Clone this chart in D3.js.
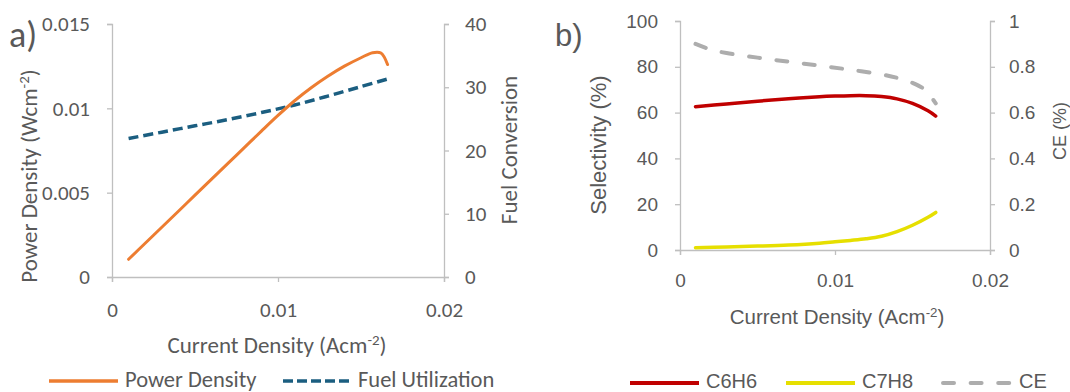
<!DOCTYPE html>
<html>
<head>
<meta charset="utf-8">
<script src="https://cdn.jsdelivr.net/npm/d3@7"></script>
<style>
  body { margin: 0; background: #fff; }
  svg { display: block; }
</style>
</head>
<body>
<div id="chart"></div>
<script>
// panel a data
var currentA = [0.001, 0.002, 0.003, 0.004, 0.005, 0.006, 0.007, 0.008, 0.009, 0.010, 0.011, 0.012, 0.013, 0.014, 0.015, 0.0157, 0.0162, 0.0166];
var powerDensity = [0.00105, 0.0020, 0.00295, 0.0039, 0.00485, 0.0058, 0.00675, 0.0077, 0.00865, 0.00958, 0.01045, 0.01122, 0.0119, 0.0125, 0.0130, 0.0133, 0.01328, 0.0126];
var currentFuel = [0.001, 0.003, 0.005, 0.007, 0.009, 0.011, 0.013, 0.015, 0.0166];
var fuelConversion = [21.9, 22.9, 23.9, 24.9, 26.0, 27.2, 28.6, 30.1, 31.3];

// panel b data
var currentSel = [0.001, 0.003, 0.005, 0.007, 0.009, 0.010, 0.011, 0.012, 0.013, 0.014, 0.015, 0.016, 0.0165];
var c6h6 = [62.6, 63.8, 65.0, 66.0, 66.9, 67.2, 67.4, 67.4, 67.0, 66.0, 64.0, 60.8, 58.5];
var c7h8 = [1.0, 1.3, 1.7, 2.2, 3.0, 3.6, 4.2, 4.9, 6.0, 8.0, 10.8, 14.3, 16.4];
var currentCE = [0.001, 0.002, 0.003, 0.005, 0.007, 0.009, 0.011, 0.013, 0.014, 0.015, 0.0158, 0.0165];
var ce = [0.90, 0.875, 0.86, 0.84, 0.822, 0.805, 0.787, 0.767, 0.752, 0.73, 0.70, 0.64];

var xTicks = [0, 0.01, 0.02];
var powerTicks = [0, 0.005, 0.01, 0.015];
var fuelTicks = [0, 10, 20, 30, 40];
var selTicks = [0, 20, 40, 60, 80, 100];
var ceTicks = [0, 0.2, 0.4, 0.6, 0.8, 1];

var textColor = "#595959";
var axisColor = "#BFBFBF";
var fontA = "Carlito, Calibri, 'Open Sans', sans-serif";
var fontB = "'Liberation Sans', Arial, sans-serif";

var svg = d3.select("#chart")
  .append("svg")
  .attr("width", 1070)
  .attr("height", 392);

var fmt = function(d) { return String(+d.toFixed(3)); };

function styleAxis(g, font, size) {
  g.select(".domain").attr("stroke", axisColor).attr("stroke-width", 1.3);
  g.selectAll(".tick line").attr("stroke", axisColor).attr("stroke-width", 1.3);
  g.selectAll(".tick text")
    .attr("fill", textColor)
    .style("font-family", font)
    .style("font-size", size + "px");
}

// text with a superscript "-2"
function supText(sel, before, size) {
  sel.append("tspan").text(before);
  sel.append("tspan").text("-2").attr("dy", -size * 0.35).style("font-size", (size * 0.65) + "px");
  sel.append("tspan").text(")").attr("dy", size * 0.35);
}

// ---------- panel a ----------
var xA = d3.scaleLinear().domain([0, 0.02]).range([112, 444]);
var yA = d3.scaleLinear().domain([0, 0.015]).range([277, 24]);
var yA2 = d3.scaleLinear().domain([0, 40]).range([277, 24]);

svg.append("g")
  .attr("transform", "translate(0,277)")
  .call(d3.axisBottom(xA).tickValues(xTicks).tickFormat(fmt).tickSize(5).tickPadding(20))
  .call(styleAxis, fontA, 21);

svg.append("g")
  .attr("transform", "translate(112,0)")
  .call(d3.axisLeft(yA).tickValues(powerTicks).tickFormat(fmt).tickSize(5).tickPadding(17))
  .call(styleAxis, fontA, 21);

svg.append("g")
  .attr("transform", "translate(444,0)")
  .call(d3.axisRight(yA2).tickValues(fuelTicks).tickFormat(fmt).tickSize(5).tickPadding(16))
  .call(styleAxis, fontA, 21);

var lineFuel = d3.line()
  .x(function(d, i) { return xA(currentFuel[i]); })
  .y(function(d) { return yA2(d); })
  .curve(d3.curveCatmullRom.alpha(0.5));

var linePower = d3.line()
  .x(function(d, i) { return xA(currentA[i]); })
  .y(function(d) { return yA(d); })
  .curve(d3.curveCatmullRom.alpha(0.5));

svg.append("path")
  .datum(fuelConversion)
  .attr("d", lineFuel)
  .attr("fill", "none")
  .attr("stroke", "#1B5E80")
  .attr("stroke-width", 3.5)
  .attr("stroke-dasharray", "10,5");

svg.append("path")
  .datum(powerDensity)
  .attr("d", linePower)
  .attr("fill", "none")
  .attr("stroke", "#ED7D31")
  .attr("stroke-width", 3)
  .attr("stroke-linecap", "round");

svg.append("text")
  .attr("x", 9)
  .attr("y", 47)
  .text("a)")
  .style("font-family", fontA)
  .style("font-size", "36px")
  .attr("fill", textColor);

svg.append("text")
  .attr("transform", "translate(37,176) rotate(-90)")
  .attr("text-anchor", "middle")
  .style("font-family", fontA)
  .style("font-size", "23px")
  .attr("fill", textColor)
  .call(supText, "Power Density (Wcm", 23);

svg.append("text")
  .attr("transform", "translate(517,150) rotate(-90)")
  .attr("text-anchor", "middle")
  .text("Fuel Conversion")
  .style("font-family", fontA)
  .style("font-size", "23px")
  .attr("fill", textColor);

svg.append("text")
  .attr("x", 277)
  .attr("y", 353)
  .attr("text-anchor", "middle")
  .style("font-family", fontA)
  .style("font-size", "23px")
  .attr("fill", textColor)
  .call(supText, "Current Density (Acm", 23);

// legend a
svg.append("line")
  .attr("x1", 49).attr("x2", 118).attr("y1", 381).attr("y2", 381)
  .attr("stroke", "#ED7D31").attr("stroke-width", 3.5);
svg.append("text")
  .attr("x", 125).attr("y", 386.5)
  .text("Power Density")
  .style("font-family", fontA).style("font-size", "22.5px")
  .attr("fill", textColor);
svg.append("line")
  .attr("x1", 283).attr("x2", 352).attr("y1", 381).attr("y2", 381)
  .attr("stroke", "#1B5E80").attr("stroke-width", 3.5)
  .attr("stroke-dasharray", "10,4");
svg.append("text")
  .attr("x", 358).attr("y", 386.5)
  .text("Fuel Utilization")
  .style("font-family", fontA).style("font-size", "22.5px")
  .attr("fill", textColor);

// ---------- panel b ----------
var xB = d3.scaleLinear().domain([0, 0.02]).range([680, 990]);
var yB = d3.scaleLinear().domain([0, 100]).range([250, 21]);
var yB2 = d3.scaleLinear().domain([0, 1]).range([250, 21]);

svg.append("g")
  .attr("transform", "translate(0,250)")
  .call(d3.axisBottom(xB).tickValues(xTicks).tickFormat(fmt).tickSize(5).tickPadding(18.5))
  .call(styleAxis, fontB, 19);

svg.append("g")
  .attr("transform", "translate(680,0)")
  .call(d3.axisLeft(yB).tickValues(selTicks).tickFormat(fmt).tickSize(5).tickPadding(17))
  .call(styleAxis, fontB, 19);

svg.append("g")
  .attr("transform", "translate(990,0)")
  .call(d3.axisRight(yB2).tickValues(ceTicks).tickFormat(fmt).tickSize(5).tickPadding(14))
  .call(styleAxis, fontB, 19);

var lineCE = d3.line()
  .x(function(d, i) { return xB(currentCE[i]); })
  .y(function(d) { return yB2(d); })
  .curve(d3.curveCatmullRom.alpha(0.5));

var lineSel = d3.line()
  .x(function(d, i) { return xB(currentSel[i]); })
  .y(function(d) { return yB(d); })
  .curve(d3.curveCatmullRom.alpha(0.5));

svg.append("path")
  .datum(ce)
  .attr("d", lineCE)
  .attr("fill", "none")
  .attr("stroke", "#ADADAD")
  .attr("stroke-width", 4)
  .attr("stroke-linecap", "round")
  .attr("stroke-dasharray", "11,16.6");

svg.append("path")
  .datum(c6h6)
  .attr("d", lineSel)
  .attr("fill", "none")
  .attr("stroke", "#C00000")
  .attr("stroke-width", 3.5)
  .attr("stroke-linecap", "round");

svg.append("path")
  .datum(c7h8)
  .attr("d", lineSel)
  .attr("fill", "none")
  .attr("stroke", "#E6DF00")
  .attr("stroke-width", 3.5)
  .attr("stroke-linecap", "round");

svg.append("text")
  .attr("x", 555)
  .attr("y", 45.5)
  .text("b)")
  .style("font-family", fontB)
  .style("font-size", "31px")
  .attr("fill", textColor);

svg.append("text")
  .attr("transform", "translate(606,145) rotate(-90)")
  .attr("text-anchor", "middle")
  .text("Selectivity (%)")
  .style("font-family", fontB)
  .style("font-size", "22px")
  .attr("fill", textColor);

svg.append("text")
  .attr("transform", "translate(1066,131) rotate(-90)")
  .attr("text-anchor", "middle")
  .text("CE (%)")
  .style("font-family", fontB)
  .style("font-size", "18px")
  .attr("fill", textColor);

svg.append("text")
  .attr("x", 837)
  .attr("y", 324)
  .attr("text-anchor", "middle")
  .style("font-family", fontB)
  .style("font-size", "20.5px")
  .attr("fill", textColor)
  .call(supText, "Current Density (Acm", 20.5);

// legend b
var legendNames = ["C6H6", "C7H8", "CE"];
var legendColors = ["#C00000", "#E6DF00", "#ADADAD"];
var legendX = [630, 786, 943];
legendNames.forEach(function(name, i) {
  var dashed = name == "CE";
  svg.append("line")
    .attr("x1", legendX[i]).attr("x2", legendX[i] + (dashed ? 67 : 69)).attr("y1", 383).attr("y2", 383)
    .attr("stroke", legendColors[i]).attr("stroke-width", 4)
    .attr("stroke-linecap", dashed ? "round" : "butt")
    .attr("stroke-dasharray", dashed ? "11,16.6" : null);
  svg.append("text")
    .attr("x", legendX[i] + 76).attr("y", 388)
    .text(name)
    .style("font-family", fontB).style("font-size", "20px")
    .attr("fill", textColor);
});
</script>
</body>
</html>
